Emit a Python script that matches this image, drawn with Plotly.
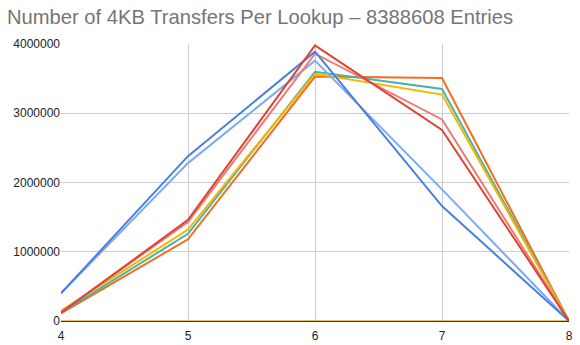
import plotly.graph_objects as go

x_vals = [4, 5, 6, 7, 8]

dark_blue = [400000, 2380000, 3890000, 1660000, 0]
light_blue = [400000, 2280000, 3760000, 1900000, 0]
red = [120000, 1460000, 3980000, 2760000, 0]
light_red = [130000, 1430000, 3860000, 2910000, 0]
yellow = [150000, 1320000, 3570000, 3270000, 0]
teal = [120000, 1260000, 3600000, 3350000, 0]
orange = [110000, 1180000, 3530000, 3510000, 0]
zero_series = [0, 0, 0, 0, 0]

series = [
    ("Zero", zero_series, "#e8c060"),
    ("Orange", orange, "#f46d1b"),
    ("Teal", teal, "#45b5a5"),
    ("Yellow", yellow, "#f4b400"),
    ("Light blue", light_blue, "#7baaf7"),
    ("Light red", light_red, "#ee7b73"),
    ("Dark blue", dark_blue, "#4a80dd"),
    ("Red", red, "#db4437"),
]

fig = go.Figure()
for name, vals, color in series:
    fig.add_trace(go.Scatter(x=x_vals, y=vals, mode="lines", name=name,
                             line=dict(color=color, width=2), showlegend=False,
                             cliponaxis=False))

fig.update_layout(
    width=580, height=345,
    margin=dict(l=61, r=11, t=44, b=24, autoexpand=False),
    paper_bgcolor="white", plot_bgcolor="white",
    title=dict(text="Number of 4KB Transfers Per Lookup – 8388608 Entries",
               x=0.012, xanchor="left", y=0.952, yanchor="middle",
               font=dict(family="Liberation Sans, Arial", size=20.2, color="#757575")),
    font=dict(family="Liberation Sans, Arial", size=12, color="#222222"),
)
fig.update_xaxes(range=[4, 8], tickvals=x_vals, showgrid=True, gridcolor="#cccccc",
                 gridwidth=1, zeroline=False, showline=True, linecolor="#3a3320",
                 linewidth=1, ticks="", automargin=False, ticklabelstandoff=4,
                 layer="above traces",
                 tickfont=dict(size=12, color="#222222"))
fig.update_yaxes(range=[0, 4000000], tickvals=[0, 1000000, 2000000, 3000000, 4000000],
                 ticktext=["0", "1000000", "2000000", "3000000", "4000000"],
                 showgrid=True, gridcolor="#cccccc", gridwidth=1, zeroline=False,
                 showline=False, ticks="", automargin=False,
                 tickfont=dict(size=12, color="#222222"))

fig.write_html("out.html")
